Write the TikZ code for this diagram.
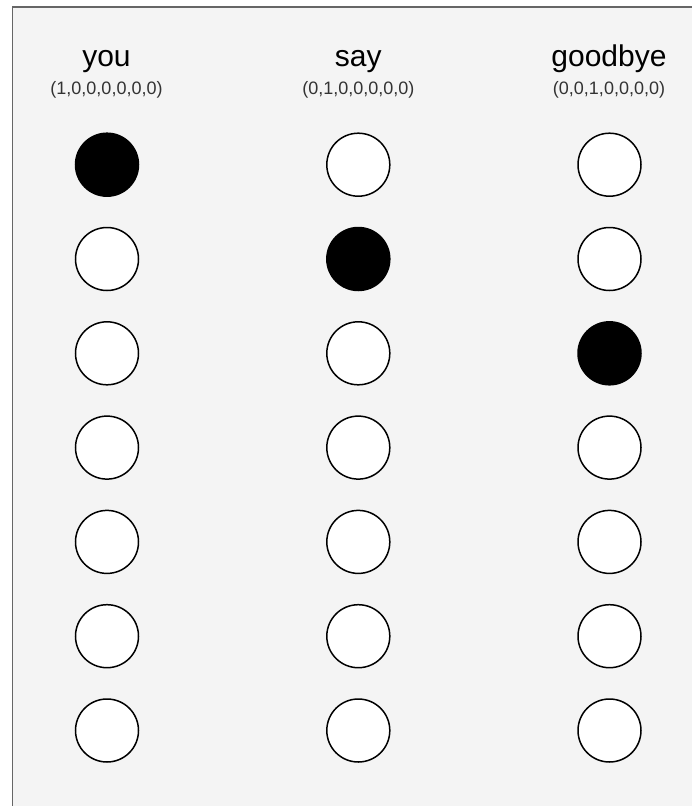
\documentclass[tikz,border=0pt]{standalone}
\usepackage{fontspec}
\setmainfont{Liberation Sans}
\definecolor{panelbg}{HTML}{F4F4F4}
\definecolor{panelline}{HTML}{666666}
\definecolor{subtext}{HTML}{333333}
\begin{document}
\begin{tikzpicture}[x=1pt,y=-1pt,
  unit/.style={circle,draw=black,line width=1.5pt,fill=white,minimum size=63pt,inner sep=0pt},
  active/.style={unit,fill=black},
  word/.style={anchor=base,font=\fontsize{30}{32}\selectfont,text=black,inner sep=0pt},
  vec/.style={anchor=base,font=\fontsize{18}{20}\selectfont,text=subtext,inner sep=0pt}]
\useasboundingbox (0,0) rectangle (692,806);
\fill[white] (0,0) rectangle (692,806);
\fill[panelbg] (12.5,7) rectangle (700,815);
\draw[panelline,line width=1.6pt] (12.5,815) -- (12.5,7) -- (700,7);
% headings
\node[word] (w1) at (106.5,66) {you};
\node[word] (w2) at (358.3,66) {say};
\node[word] (w3) at (609,66) {goodbye};
\node[vec] (v1) at (106.5,94.5) {(1,0,0,0,0,0,0)};
\node[vec] (v2) at (358.3,94.5) {(0,1,0,0,0,0,0)};
\node[vec] (v3) at (609,94.5) {(0,0,1,0,0,0,0)};
% units
\foreach \c/\x/\on in {1/107/1,2/358.3/2,3/609.5/3}{
  \foreach \r in {1,...,7}{
    \pgfmathsetmacro{\yy}{164.7+94.3*(\r-1)}
    \ifnum\r=\on
      \node[active] (n\c\r) at (\x,\yy) {};
    \else
      \node[unit] (n\c\r) at (\x,\yy) {};
    \fi
  }
}
\end{tikzpicture}
\end{document}
